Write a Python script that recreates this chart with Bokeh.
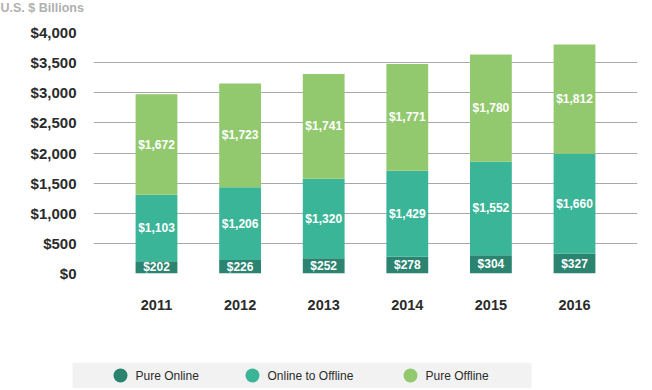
from bokeh.plotting import figure
from bokeh.models import (ColumnDataSource, FactorRange, FixedTicker, NumeralTickFormatter, Range1d)
from bokeh.embed import file_html
from bokeh.resources import INLINE
from bokeh.core.properties import value

years = ["2011", "2012", "2013", "2014", "2015", "2016"]
pure_online = [202, 226, 252, 278, 304, 327]
online_to_offline = [1103, 1206, 1320, 1429, 1552, 1660]
pure_offline = [1672, 1723, 1741, 1771, 1780, 1812]
series_names = ["Pure Online", "Online to Offline", "Pure Offline"]
series_keys = ["pure_online", "online_to_offline", "pure_offline"]
colors = ["#2b8470", "#3bb597", "#92c96e"]
y_ticks = [0, 500, 1000, 1500, 2000, 2500, 3000, 3500, 4000]
caption = "U.S. $ Billions"

FONT = "Liberation Sans"
PAD = 0.2535

data = dict(years=years, pure_online=pure_online,
            online_to_offline=online_to_offline, pure_offline=pure_offline)
t1 = list(pure_online)
t2 = [a + b for a, b in zip(t1, online_to_offline)]
t3 = [a + b for a, b in zip(t2, pure_offline)]
data["y_po"] = [a / 2 for a in t1]
data["y_oo"] = [(a + b) / 2 for a, b in zip(t1, t2)]
data["y_pf"] = [(a + b) / 2 for a, b in zip(t2, t3)]
data["l_po"] = ["${:,}".format(v) for v in pure_online]
data["l_oo"] = ["${:,}".format(v) for v in online_to_offline]
data["l_pf"] = ["${:,}".format(v) for v in pure_offline]
src = ColumnDataSource(data)

# caption strip
cap = figure(width=652, height=14, output_backend="svg", toolbar_location=None,
             x_axis_type=None, y_axis_type=None,
             x_range=Range1d(0, 652), y_range=Range1d(0, 14),
             min_border=0, min_border_left=0, min_border_right=0, min_border_top=0, min_border_bottom=0)
cap.grid.visible = False
cap.outline_line_color = None
cap.background_fill_color = "white"
cap.border_fill_color = "white"
cap.text(x=[0], y=[13.5], text=[caption], text_align="left", text_baseline="top",
         text_font=value(FONT), text_font_size="12.5px", text_font_style="bold",
         text_color="#b0b0b0")

p = figure(width=652, height=348, output_backend="svg", toolbar_location=None,
           x_range=FactorRange(factors=years, range_padding=PAD, range_padding_units="absolute"),
           y_range=Range1d(0, 4000),
           min_border_left=93, min_border_right=15, min_border_top=18, min_border_bottom=89)
p.outline_line_color = None
p.background_fill_color = "white"
p.border_fill_color = "white"

p.vbar_stack(series_keys, x="years", width=0.5, color=colors, source=src, line_color=None)

for ycol, lcol in [("y_po", "l_po"), ("y_oo", "l_oo"), ("y_pf", "l_pf")]:
    p.text(x="years", y=ycol, text=lcol, source=src, text_align="center",
           text_baseline="middle", text_color="white", text_font=value(FONT),
           text_font_size="12px", text_font_style="bold")

p.xgrid.grid_line_color = None
p.ygrid.grid_line_color = "#a8a8a8"
p.ygrid.grid_line_width = 1
p.ygrid.ticker = FixedTicker(ticks=y_ticks)

p.yaxis.ticker = FixedTicker(ticks=y_ticks)
p.yaxis.formatter = NumeralTickFormatter(format="$0,0")
p.yaxis.axis_line_color = None
p.yaxis.major_tick_line_color = None
p.yaxis.minor_tick_line_color = None
p.yaxis.major_label_standoff = 11
p.yaxis.major_label_text_font = FONT
p.yaxis.major_label_text_font_size = "15px"
p.yaxis.major_label_text_font_style = "bold"
p.yaxis.major_label_text_color = "#2b2b2b"

p.xaxis.axis_line_color = None
p.xaxis.major_tick_line_color = None
p.xaxis.major_label_standoff = 20
p.xaxis.major_label_text_font = FONT
p.xaxis.major_label_text_font_size = "14.5px"
p.xaxis.major_label_text_font_style = "bold"
p.xaxis.major_label_text_color = "#2b2b2b"

# legend strip
lg = figure(width=652, height=26, output_backend="svg", toolbar_location=None,
            x_axis_type=None, y_axis_type=None,
            x_range=Range1d(0, 652), y_range=Range1d(0, 26),
            min_border=0, min_border_left=0, min_border_right=0, min_border_top=0, min_border_bottom=0)
lg.grid.visible = False
lg.outline_line_color = None
lg.background_fill_color = "white"
lg.border_fill_color = "white"
lg.rect(x=[301.5], y=[13], width=[459], height=[26], fill_color="#f2f2f2", line_color=None)
leg_src = ColumnDataSource(dict(cx=[120, 252, 410], tx=[135, 267, 425], y=[13, 13, 13],
                                name=series_names, color=colors))
lg.scatter(x="cx", y="y", size=14, color="color", line_color=None, source=leg_src)
lg.text(x="tx", y="y", text="name", source=leg_src, text_align="left", text_baseline="middle",
        text_font=value(FONT), text_font_size="12px", text_color="#2b2b2b")

open("out.html", "w").write(file_html([cap, p, lg], INLINE))
